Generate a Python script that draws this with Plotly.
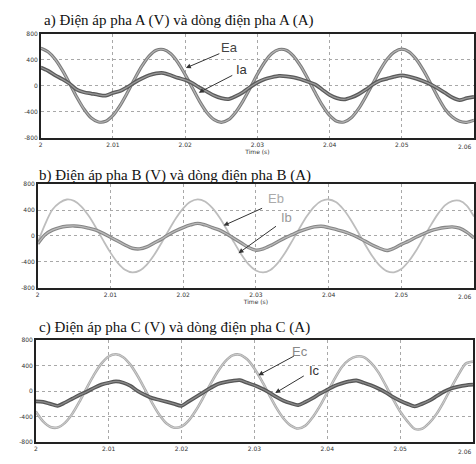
import plotly.graph_objects as go

W, H = 476, 464

# sample times (s), 1 ms step
time_s = [round(2 + i * 0.001, 3) for i in range(61)]

# Panel a
Ea = [575, 520, 405, 235, 35, -175, -360, -495, -555, -545, -455, -300, -105, 105, 300, 455,
      545, 555, 490, 355, 170, -35, -240, -410, -520, -560, -520, -405, -235, -35, 175, 360,
      495, 555, 545, 455, 300, 105, -105, -300, -455, -545, -555, -490, -355, -170, 35, 240,
      410, 520, 560, 520, 405, 235, 35, -175, -360, -480, -545, -560, -530]
Ia = [280, 230, 160, 100, 30, -60, -100, -120, -140, -150, -110, -80, -20, 50, 110, 160,
      190, 195, 160, 120, 90, 40, -30, -90, -150, -190, -205, -160, -100, -20, 50, 100,
      130, 150, 145, 130, 100, 60, 20, -60, -140, -190, -210, -180, -130, -60, 20, 80,
      110, 140, 160, 140, 110, 70, 20, -40, -110, -180, -220, -190, -170]
# Panel b
Eb = [-100, 180, 404, 515, 564, 542, 455, 311, 129, -69, -258, -416, -522, -564, -537, -444,
      -296, -112, 86, 274, 428, 529, 565, 532, 433, 285, 98, -100, -287, -439, -534, -565,
      -526, -421, -265, -76, 119, 303, 451, 540, 564, 524, 417, 260, 69, -128, -311, -456,
      -544, -563, -511, -396, -234, -40, 156, 334, 474, 540, 545, 470, 300]
Ib = [-120, 20, 90, 130, 150, 155, 145, 120, 90, 40, -20, -80, -140, -190, -200, -170,
      -110, -50, 20, 80, 130, 170, 195, 170, 130, 90, 30, -40, -110, -180, -220, -200,
      -150, -90, -30, 20, 70, 110, 140, 150, 130, 100, 70, 30, -20, -80, -140, -190,
      -225, -190, -130, -80, -20, 30, 80, 110, 130, 140, 120, 60, -30]
# Panel c
Ec = [-320, -473, -560, -569, -497, -356, -164, 50, 257, 429, 540, 575, 529, 409, 232, 22,
      -191, -377, -511, -572, -553, -457, -296, -97, 115, 309, 465, 558, 569, 496, 352, 162,
      -50, -258, -428, -540, -585, -540, -409, -232, -22, 191, 377, 490, 540, 530, 440, 296,
      94, -121, -320, -473, -590, -590, -497, -356, -164, 50, 257, 429, 460]
Ic = [-160, -170, -200, -230, -180, -120, -60, -10, 50, 100, 130, 150, 130, 80, 0, -60,
      -110, -140, -170, -200, -230, -160, -90, -20, 50, 110, 140, 160, 170, 130, 90, 40,
      -20, -90, -150, -190, -220, -170, -110, -40, 20, 80, 120, 150, 165, 130, 90, 40,
      -20, -90, -150, -200, -240, -200, -150, -80, -10, 40, 70, 90, 100]

y_ticks = [-800, -400, 0, 400, 800]
y_tick_text = ["-800", "-400", "0", "400", "800"]
x_ticks = [2, 2.01, 2.02, 2.03, 2.04, 2.05]
x_tick_text = ["2", "2.01", "2.02", "2.03", "2.04", "2.05"]
x_last_label = "2.06"

titles = ["a) Điện áp pha A (V) và dòng điện pha A (A)",
          "b) Điện áp pha B (V) và dòng điện pha B (A)",
          "c) Điện áp pha C (V) và dòng điện pha C (A)"]


def px(x, y):
    return x / W, 1 - y / H


fig = go.Figure()

# (pixel boxes) left, right, top, bottom
boxes = [(39, 475, 30, 136), (36, 475, 183, 288), (34, 474, 341, 445)]


def band(name, y, ax, outer, inner, wo, wi):
    sfx = "" if ax == 1 else str(ax)
    fig.add_trace(go.Scatter(x=time_s, y=y, mode="lines", name=name, showlegend=False,
                             line=dict(color=outer, width=wo, shape="spline", smoothing=0.8),
                             xaxis="x" + sfx, yaxis="y" + sfx, hoverinfo="skip"))
    if inner:
        fig.add_trace(go.Scatter(x=time_s, y=y, mode="lines", name=name, showlegend=False,
                                 line=dict(color=inner, width=wi, shape="spline", smoothing=0.8),
                                 xaxis="x" + sfx, yaxis="y" + sfx, hoverinfo="skip"))


band("Ea", Ea, 1, "#7a7a7a", "#b4b4b4", 3.2, 1.2)
band("Ia", Ia, 1, "#5a5a5a", "#9a9a9a", 3.8, 1.3)
band("Eb", Eb, 2, "#bdbdbd", None, 1.8, 0)
band("Ib", Ib, 2, "#858585", "#bababa", 3.4, 1.3)
band("Ec", Ec, 3, "#ababab", "#d0d0d0", 2.6, 1)
band("Ic", Ic, 3, "#555555", "#8a8a8a", 3.8, 1.3)

layout = dict(width=W, height=H, margin=dict(l=0, r=0, t=0, b=0),
              paper_bgcolor="white", plot_bgcolor="white", showlegend=False)

tickfont = dict(family="DejaVu Sans", size=6, color="#333")
for i, (l, r, t, b) in enumerate(boxes, start=1):
    sfx = "" if i == 1 else str(i)
    x0, y1 = px(l, t)
    x1, y0 = px(r, b)
    layout["xaxis" + sfx] = dict(domain=[x0, x1], anchor="y" + sfx, range=[2, 2.06],
                                 tickvals=x_ticks, ticktext=x_tick_text, ticks="",
                                 showline=True, linecolor="#222", linewidth=1.5, mirror=True,
                                 showgrid=True, gridcolor="#a8a8a8", griddash="dot", gridwidth=1,
                                 zeroline=False, tickfont=tickfont,
                                 title=dict(text="Time (s)" if i < 3 else "",
                                            font=dict(family="DejaVu Sans", size=6, color="#333"),
                                            standoff=2))
    layout["yaxis" + sfx] = dict(domain=[y0, y1], anchor="x" + sfx, range=[-800, 800],
                                 tickvals=y_ticks, ticktext=y_tick_text, ticks="",
                                 showline=True, linecolor="#222", linewidth=1.5, mirror=True,
                                 showgrid=True, gridcolor="#a8a8a8", griddash="dot", gridwidth=1,
                                 zeroline=False, tickfont=tickfont)
    fig.add_annotation(x=(W - 1) / W, y=px(0, b + 9)[1], xref="paper", yref="paper",
                       text=x_last_label, showarrow=False, xanchor="right", yanchor="middle",
                       font=tickfont)

fig.update_layout(**layout)

# titles
title_pos = [(40, 17), (35, 174), (35, 328)]
for txt, (x, y) in zip(titles, title_pos):
    xx, yy = px(x, y)
    fig.add_annotation(x=xx, y=yy, xref="paper", yref="paper", text=txt, showarrow=False,
                       xanchor="left", yanchor="middle",
                       font=dict(family="Liberation Serif", size=15, color="#111"))

# curve labels
labels = [("Ea", 229, 44, "#444"), ("Ia", 242, 66, "#333"),
          ("Eb", 276, 197, "#aaa"), ("Ib", 286, 217, "#999"),
          ("Ec", 300, 353, "#888"), ("Ic", 314, 372, "#333")]
for txt, x, y, c in labels:
    xx, yy = px(x, y)
    fig.add_annotation(x=xx, y=yy, xref="paper", yref="paper", text=txt, showarrow=False,
                       xanchor="center", yanchor="middle",
                       font=dict(family="Liberation Sans", size=13, color=c))

# arrows: (tail x, tail y, head x, head y)
arrows = [(220, 50, 185, 65), (233, 72, 198, 90), (263, 207, 223, 225),
          (277, 225, 238, 253), (295, 357, 258, 377), (305, 377, 275, 395)]
for tx, ty, hx, hy in arrows:
    xx, yy = px(hx, hy)
    fig.add_annotation(x=xx, y=yy, xref="paper", yref="paper", text="", showarrow=True,
                       ax=tx - hx, ay=ty - hy, arrowhead=2, arrowsize=1, arrowwidth=1,
                       arrowcolor="#333")

fig.write_html("out.html", config={"displayModeBar": False},
               post_script="document.body.style.margin='0';document.body.style.overflow='hidden';")
